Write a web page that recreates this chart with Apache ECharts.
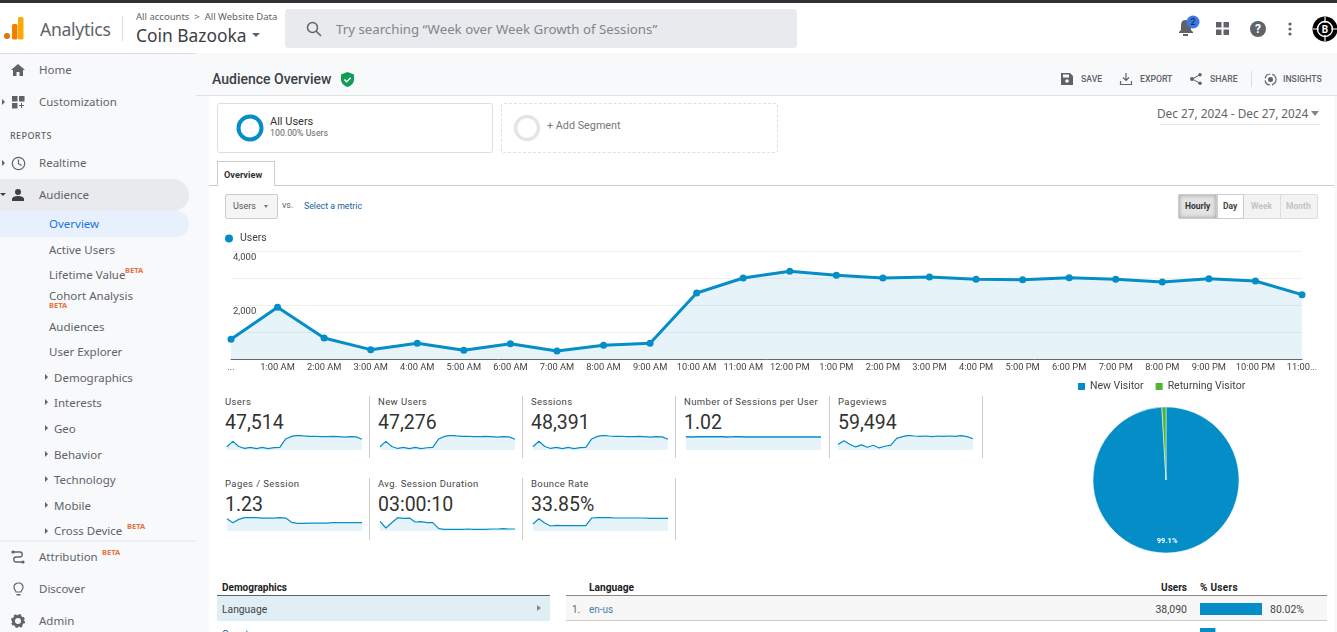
<!DOCTYPE html>
<html>
<head>
<meta charset="utf-8">
<title>Audience Overview</title>
<script src="https://cdn.jsdelivr.net/npm/echarts@6/dist/echarts.min.js"></script>
<style>
html,body{margin:0;padding:0;width:1337px;height:632px;overflow:hidden;background:#fff;font-family:Roboto,sans-serif;color:#3c4043}
.t{position:absolute;white-space:nowrap;transform:translateY(-50%);line-height:1.2}
.box{position:absolute;box-sizing:border-box}
.nav{font:11.5px "Noto Sans",sans-serif;color:#5f6368;transform:translateY(calc(-50% - 1px))}
.beta{font:bold 7.5px "Noto Sans",sans-serif;color:#e8713f}
.tri{position:absolute;width:0;height:0;border-style:solid;border-width:3px 0 3px 3.5px;border-color:transparent transparent transparent #5f6368;transform:translateY(-50%)}
.act{font:500 8.7px Roboto,sans-serif;color:#5f6368}
.ttl{font:9.5px Roboto,sans-serif;color:#444;letter-spacing:.4px}
.val{font:19.5px Roboto,sans-serif;color:#333}
.lnk{color:#1a5f9c}
svg{position:absolute;overflow:visible}
#main{position:absolute;left:0;top:0;width:1337px;height:632px}
</style>
</head>
<body>
<!-- page chrome -->
<div class="box" style="left:0;top:0;width:1337px;height:3px;background:#2f3133"></div>
<div class="box" style="left:0;top:53px;width:209px;height:579px;background:#f8f9fb"></div>
<div class="box" style="left:0;top:53px;width:196px;height:1px;background:#dfe1e5"></div>
<div class="box" style="left:196px;top:53px;width:1141px;height:43px;background:#f8f9fb;border-bottom:1px solid #e0e0e0"></div>
<div class="box" style="left:1334px;top:96px;width:3px;height:536px;background:#f8f9fb"></div>

<!-- logo -->
<svg style="left:0;top:0" width="30" height="50">
  <circle cx="7" cy="36" r="3" fill="#e37400"/>
  <rect x="12" y="24" width="5.5" height="15.5" rx="1.5" fill="#f57c00"/>
  <rect x="18" y="17" width="5.5" height="22.5" rx="1.5" fill="#f9ab00"/>
</svg>
<div class="t" style="left:40px;top:28.5px;font:17.6px 'Noto Sans',sans-serif;color:#5f6368;letter-spacing:-.3px">Analytics</div>
<div class="box" style="left:122px;top:16px;width:1px;height:25px;background:#dadce0"></div>
<div class="t" style="left:136px;top:16px;font:9.5px 'Noto Sans',sans-serif;color:#5f6368">All accounts &nbsp;&gt;&nbsp; All Website Data</div>
<div class="t" style="left:136px;top:34.5px;font:17.4px 'Noto Sans',sans-serif;color:#3c4043">Coin Bazooka</div>
<div class="box" style="left:252px;top:33px;border:4px solid transparent;border-top:4px solid #5f6368;border-bottom:0"></div>

<!-- search -->
<div class="box" style="left:285px;top:9px;width:512px;height:39px;background:#e8eaed;border-radius:4px"></div>
<svg style="left:306px;top:21px" width="16" height="16"><circle cx="6.5" cy="6.5" r="5" fill="none" stroke="#5f6368" stroke-width="1.5"/><line x1="10" y1="10" x2="15" y2="15" stroke="#5f6368" stroke-width="1.6"/></svg>
<div class="t" style="left:336px;top:28.5px;font:13.25px 'Noto Sans',sans-serif;color:#80868b">Try searching “Week over Week Growth of Sessions”</div>

<!-- top right icons -->
<svg style="left:1176px;top:14px" width="30" height="26">
  <path d="M9 6c-3 0-4 3-4 6v4l-2 2v1h14v-1l-2-2v-4c0-3-2-6-6-6z" fill="#5f6368"/><rect x="7" y="20" width="5" height="2" fill="#5f6368"/>
  <circle cx="17" cy="8" r="6.5" fill="#3b78e7"/><text x="17" y="11" text-anchor="middle" font-size="9" font-family="Roboto" fill="#202124">2</text>
</svg>
<svg style="left:1216px;top:22px" width="14" height="14"><g fill="#5f6368"><rect width="5.5" height="5.5"/><rect x="7.5" width="5.5" height="5.5"/><rect y="7.5" width="5.5" height="5.5"/><rect x="7.5" y="7.5" width="5.5" height="5.5"/></g></svg>
<svg style="left:1250px;top:21px" width="16" height="16"><circle cx="8" cy="8" r="8" fill="#5f6368"/><text x="8" y="12" text-anchor="middle" font-size="12" font-weight="bold" font-family="Roboto" fill="#fff">?</text></svg>
<svg style="left:1288px;top:22px" width="4" height="14"><g fill="#5f6368"><circle cx="2" cy="2" r="1.6"/><circle cx="2" cy="7" r="1.6"/><circle cx="2" cy="12" r="1.6"/></g></svg>
<svg style="left:1312px;top:16px" width="26" height="26"><circle cx="13" cy="13" r="12.5" fill="#000"/><circle cx="13" cy="13" r="7.5" fill="none" stroke="#fff" stroke-width="1.4"/><path d="M13 1v6M13 19v6M1 13h6M19 13h6" stroke="#fff" stroke-width="1.2"/><text x="13" y="16.5" text-anchor="middle" font-size="10" font-weight="bold" font-family="Roboto" fill="#fff">B</text></svg>

<!-- left nav -->
<svg style="left:11px;top:64px" width="14" height="12"><path d="M7 0L0 6h2v6h3.5V8h3v4H12V6h2z" fill="#5f6368"/></svg>
<div class="t nav" style="left:39px;top:70px">Home</div>
<div class="tri" style="left:2px;top:102px"></div>
<svg style="left:12px;top:96px" width="13" height="13"><g fill="#5f6368"><rect width="5.5" height="5.5"/><rect x="7" width="5.5" height="5.5"/><rect y="7" width="5.5" height="5.5"/><path d="M9 7h1v2h2v1h-2v2H9v-2H7V9h2z"/></g></svg>
<div class="t nav" style="left:39px;top:102px">Customization</div>
<div class="t" style="left:10px;top:135px;font:500 9px 'Noto Sans',sans-serif;color:#5f6368;letter-spacing:.4px">REPORTS</div>
<div class="tri" style="left:2px;top:163px"></div>
<svg style="left:11px;top:156px" width="15" height="15"><circle cx="7.5" cy="7.5" r="6.2" fill="none" stroke="#5f6368" stroke-width="1.2"/><path d="M7.5 3.5v4.2l3 1.8" fill="none" stroke="#5f6368" stroke-width="1.2"/></svg>
<div class="t nav" style="left:39px;top:163px">Realtime</div>
<div class="box" style="left:0;top:179px;width:189px;height:32px;background:#e8eaed;border-radius:0 16px 16px 0"></div>
<div class="box" style="left:0;top:193px;border:3px solid transparent;border-top:3.5px solid #3c4043;border-bottom:0"></div>
<svg style="left:12px;top:189px" width="12" height="12"><circle cx="6" cy="3" r="3" fill="#3c4043"/><path d="M0 12v-2c0-2 3-3 6-3s6 1 6 3v2z" fill="#3c4043"/></svg>
<div class="t nav" style="left:39px;top:195px">Audience</div>
<div class="box" style="left:0;top:211px;width:189px;height:26px;background:#e8f0fe;border-radius:0 13px 13px 0"></div>
<div class="t nav" style="left:49px;top:224px;color:#1a73e8">Overview</div>
<div class="t nav" style="left:49px;top:250px">Active Users</div>
<div class="t nav" style="left:49px;top:275px">Lifetime Value</div>
<div class="t beta" style="left:125px;top:270px">BETA</div>
<div class="t nav" style="left:49px;top:296px">Cohort Analysis</div>
<div class="t beta" style="left:49px;top:305px">BETA</div>
<div class="t nav" style="left:49px;top:327px">Audiences</div>
<div class="t nav" style="left:49px;top:352px">User Explorer</div>
<div class="tri" style="left:45px;top:377px"></div><div class="t nav" style="left:54px;top:378px">Demographics</div>
<div class="tri" style="left:45px;top:402px"></div><div class="t nav" style="left:54px;top:403px">Interests</div>
<div class="tri" style="left:45px;top:428px"></div><div class="t nav" style="left:54px;top:429px">Geo</div>
<div class="tri" style="left:45px;top:454px"></div><div class="t nav" style="left:54px;top:455px">Behavior</div>
<div class="tri" style="left:45px;top:479px"></div><div class="t nav" style="left:54px;top:480px">Technology</div>
<div class="tri" style="left:45px;top:505px"></div><div class="t nav" style="left:54px;top:506px">Mobile</div>
<div class="tri" style="left:45px;top:531px"></div><div class="t nav" style="left:54px;top:531px">Cross Device</div>
<div class="t beta" style="left:127px;top:526px">BETA</div>
<div class="box" style="left:0;top:540px;width:196px;height:2px;background:#eceef1"></div>
<svg style="left:11px;top:550px" width="14" height="14"><path d="M2 2h7c3 0 3 5 0 5H5c-3 0-3 5 0 5h7" fill="none" stroke="#5f6368" stroke-width="1.3"/><circle cx="2" cy="2" r="1.6" fill="#5f6368"/><circle cx="12" cy="12" r="1.6" fill="#5f6368"/></svg>
<div class="t nav" style="left:39px;top:557px">Attribution</div>
<div class="t beta" style="left:102px;top:552px">BETA</div>
<svg style="left:13px;top:582px" width="11" height="15"><path d="M5.5 1C2.5 1 1 3 1 5.2c0 2 1.5 3 2 4.8h5c.5-1.800 2-2.800 2-4.800C10 3 8.500 1 5.500 1z" fill="none" stroke="#5f6368" stroke-width="1.2"/><rect x="3.500" y="12" width="4" height="1.500" fill="#5f6368"/></svg>
<div class="t nav" style="left:39px;top:589px">Discover</div>
<svg style="left:11px;top:614px" width="14" height="14"><circle cx="7" cy="7" r="4.500" fill="none" stroke="#5f6368" stroke-width="3"/><circle cx="7" cy="7" r="6" fill="none" stroke="#5f6368" stroke-width="2" stroke-dasharray="2.500 2.200"/></svg>
<div class="t nav" style="left:39px;top:621px">Admin</div>

<!-- report header -->
<div class="t" style="left:212px;top:79px;font:500 14px Roboto,sans-serif;color:#3c4043">Audience Overview</div>
<svg style="left:341px;top:72px" width="13" height="15"><path d="M6.500 0L0 2.500v5C0 11 3 14 6.500 15 10 14 13 11 13 7.500v-5z" fill="#0f9d58"/><path d="M3.500 7.500l2.200 2.200 4-4" fill="none" stroke="#fff" stroke-width="1.500"/></svg>
<svg style="left:1061px;top:73px" width="12" height="12"><path d="M0 0h9l3 3v9H0z" fill="#5f6368"/><rect x="2" y="1.500" width="6" height="3" fill="#f8f9fb"/><circle cx="6" cy="8" r="1.800" fill="#f8f9fb"/></svg>
<div class="t act" style="left:1081px;top:79px">SAVE</div>
<svg style="left:1120px;top:73px" width="12" height="12"><path d="M6 0v7M3 4.500l3 3 3-3M.5 8v3.500h11V8" fill="none" stroke="#5f6368" stroke-width="1.200"/></svg>
<div class="t act" style="left:1140px;top:79px">EXPORT</div>
<svg style="left:1190px;top:73px" width="12" height="12"><circle cx="2" cy="6" r="2" fill="#5f6368"/><circle cx="10" cy="1.800" r="1.800" fill="#5f6368"/><circle cx="10" cy="10.200" r="1.800" fill="#5f6368"/><path d="M2 6l8-4.200M2 6l8 4.200" stroke="#5f6368"/></svg>
<div class="t act" style="left:1210px;top:79px">SHARE</div>
<div class="box" style="left:1251px;top:71px;width:1px;height:16px;background:#dadce0"></div>
<svg style="left:1264px;top:73px" width="13" height="13"><circle cx="6.500" cy="6.500" r="5.500" fill="none" stroke="#5f6368" stroke-width="1.200" stroke-dasharray="7 2"/><circle cx="6.500" cy="6.500" r="2.500" fill="#5f6368"/></svg>
<div class="t act" style="left:1283px;top:79px">INSIGHTS</div>

<!-- segments -->
<div class="box" style="left:217px;top:103px;width:276px;height:50px;border:1px solid #e0e0e0;border-radius:3px"></div>
<svg style="left:236px;top:114px" width="28" height="28"><circle cx="14" cy="14" r="11.500" fill="none" stroke="#058dc7" stroke-width="4"/></svg>
<div class="t" style="left:270px;top:121px;font:11px Roboto,sans-serif;color:#333">All Users</div>
<div class="t" style="left:270px;top:133px;font:8.800px Roboto,sans-serif;color:#666">100.00% Users</div>
<div class="box" style="left:501px;top:103px;width:277px;height:50px;border:1px dashed #e0e0e0;border-radius:3px"></div>
<svg style="left:513px;top:114px" width="28" height="28"><circle cx="14" cy="14" r="11.500" fill="none" stroke="#e5e5e5" stroke-width="3.500"/></svg>
<div class="t" style="left:547px;top:125px;font:10.800px Roboto,sans-serif;color:#777">+ Add Segment</div>
<div class="t" style="left:1157px;top:113px;font:11.800px 'Noto Sans',sans-serif;color:#5f6368">Dec 27, 2024 - Dec 27, 2024</div>
<div class="box" style="left:1311px;top:111px;border:4px solid transparent;border-top:5px solid #80868b;border-bottom:0"></div>
<div class="box" style="left:1160px;top:124px;width:160px;height:1px;background:#e8e8e8"></div>

<!-- tab -->
<div class="box" style="left:209px;top:185px;width:1125px;height:1px;background:#ccc"></div>
<div class="box" style="left:217px;top:161px;width:58px;height:25px;background:#fff;border:1px solid #ccc;border-bottom:0"></div>
<div class="t" style="left:224px;top:173.5px;font:bold 9.200px Roboto,sans-serif;color:#333">Overview</div>

<!-- metric picker -->
<div class="box" style="left:225px;top:194px;width:53px;height:25px;border:1px solid #ccc;border-radius:2px;background:#f5f5f5"></div>
<div class="t" style="left:233px;top:206px;font:9px Roboto,sans-serif;color:#555">Users</div>
<div class="box" style="left:264px;top:205px;border:2.500px solid transparent;border-top:3px solid #777;border-bottom:0"></div>
<div class="t" style="left:282px;top:205px;font:9px Roboto,sans-serif;color:#666">vs.</div>
<div class="t lnk" style="left:304px;top:206px;font:8.750px Roboto,sans-serif">Select a metric</div>
<div class="box" style="left:1178px;top:194px;width:140px;height:25px;background:#f3f3f3;border:1px solid #ddd;border-radius:2px"></div>
<div class="box" style="left:1178px;top:194px;width:39px;height:25px;background:#e3e3e3;border:1px solid #ccc;box-shadow:inset 0 0 4px #999;border-radius:2px 0 0 2px"></div>
<div class="box" style="left:1217px;top:194px;width:27px;height:25px;background:#fff;border:1px solid #ccc"></div>
<div class="box" style="left:1280px;top:195px;width:1px;height:23px;background:#ddd"></div>
<div class="t" style="left:1185px;top:206px;font:bold 8.500px Roboto,sans-serif;color:#333">Hourly</div>
<div class="t" style="left:1223px;top:206px;font:bold 8.500px Roboto,sans-serif;color:#444">Day</div>
<div class="t" style="left:1251px;top:206px;font:bold 8.500px Roboto,sans-serif;color:#c4c4c4">Week</div>
<div class="t" style="left:1286px;top:206px;font:bold 8.500px Roboto,sans-serif;color:#c4c4c4">Month</div>

<!-- scorecards -->
<div class="t ttl" style="left:225px;top:401px">Users</div><div class="t val" style="left:225px;top:422px">47,514</div>
<div class="t ttl" style="left:378px;top:401px">New Users</div><div class="t val" style="left:378px;top:422px">47,276</div>
<div class="t ttl" style="left:531px;top:401px">Sessions</div><div class="t val" style="left:531px;top:422px">48,391</div>
<div class="t ttl" style="left:684px;top:401px">Number of Sessions per User</div><div class="t val" style="left:684px;top:422px">1.02</div>
<div class="t ttl" style="left:838px;top:401px">Pageviews</div><div class="t val" style="left:838px;top:422px">59,494</div>
<div class="t ttl" style="left:225px;top:483px">Pages / Session</div><div class="t val" style="left:225px;top:504px">1.23</div>
<div class="t ttl" style="left:378px;top:483px">Avg. Session Duration</div><div class="t val" style="left:378px;top:504px">03:00:10</div>
<div class="t ttl" style="left:531px;top:483px">Bounce Rate</div><div class="t val" style="left:531px;top:504px">33.85%</div>
<div class="box" style="left:369px;top:396px;width:1px;height:62px;background:#ccc"></div>
<div class="box" style="left:522px;top:396px;width:1px;height:62px;background:#ccc"></div>
<div class="box" style="left:675px;top:396px;width:1px;height:62px;background:#ccc"></div>
<div class="box" style="left:829px;top:396px;width:1px;height:62px;background:#ccc"></div>
<div class="box" style="left:982px;top:396px;width:1px;height:62px;background:#ccc"></div>
<div class="box" style="left:369px;top:478px;width:1px;height:62px;background:#ccc"></div>
<div class="box" style="left:522px;top:478px;width:1px;height:62px;background:#ccc"></div>
<div class="box" style="left:675px;top:478px;width:1px;height:62px;background:#ccc"></div>

<!-- language table -->
<div class="t" style="left:222px;top:586.5px;font:bold 10px Roboto,sans-serif;color:#222">Demographics</div>
<div class="box" style="left:217px;top:595px;width:333px;height:1px;background:#5a6470"></div>
<div class="box" style="left:217px;top:596px;width:333px;height:25px;background:#e0eef5"></div>
<div class="t" style="left:222px;top:608.5px;font:10.300px Roboto,sans-serif;color:#444">Language</div>
<div class="tri" style="left:537px;top:608px;border-width:3.500px 0 3.500px 4px;border-left-color:#888"></div>
<div class="t lnk" style="left:222px;top:634px;font:10px Roboto,sans-serif">Country</div>
<div class="t" style="left:589px;top:586.5px;font:bold 10.200px Roboto,sans-serif;color:#222">Language</div>
<div class="box" style="left:566px;top:595px;width:761px;height:1px;background:#888"></div>
<div class="box" style="left:566px;top:596px;width:761px;height:25px;background:#f7f7f7;border-bottom:1px solid #ccc"></div>
<div class="t" style="left:572px;top:608.5px;font:10px Roboto,sans-serif;color:#666">1.</div>
<div class="t lnk" style="left:589px;top:608.5px;font:10px Roboto,sans-serif;color:#4a80a8">en-us</div>
<div class="t" style="left:572px;top:636px;font:10px Roboto,sans-serif;color:#666">2.</div>
<div class="t" style="right:150px;top:586.5px;font:bold 10px Roboto,sans-serif;color:#222">Users</div>
<div class="t" style="left:1200px;top:586.5px;font:bold 10px Roboto,sans-serif;color:#222;letter-spacing:.3px">% Users</div>
<div class="t" style="right:150px;top:608.5px;font:10.500px Roboto,sans-serif;color:#444">38,090</div>
<div class="t" style="left:1270px;top:608.5px;font:10.500px Roboto,sans-serif;color:#444">80.02%</div>
<div class="t" style="right:150px;top:636px;font:10.500px Roboto,sans-serif;color:#444">9,460</div>
<div class="t" style="left:1223px;top:636px;font:10.500px Roboto,sans-serif;color:#444">19.91%</div>

<div id="main"></div>

<script>
var hours = ['...','1:00 AM','2:00 AM','3:00 AM','4:00 AM','5:00 AM','6:00 AM','7:00 AM','8:00 AM','9:00 AM','10:00 AM','11:00 AM','12:00 PM','1:00 PM','2:00 PM','3:00 PM','4:00 PM','5:00 PM','6:00 PM','7:00 PM','8:00 PM','9:00 PM','10:00 PM','11:00...'];
var users = [728,1914,778,346,580,321,568,296,506,580,2444,3000,3247,3099,3000,3037,2951,2938,3012,2951,2852,2975,2889,2383];
var newUsers = [720,1900,770,340,575,318,565,290,500,575,2430,2985,3232,3085,2985,3020,2938,2925,2998,2935,2838,2960,2875,2370];
var sessions = [740,1960,795,350,590,325,580,300,515,590,2490,3060,3310,3155,3060,3095,3005,2990,3070,3005,2905,3030,2945,2425];
var sessionsPerUser = [1.03,1.02,1.03,1.03,1.04,1.03,1.04,1.02,1.03,1.05,1.02,1.01,1.01,1.01,1.01,1.01,1.01,1.01,1.01,1.01,1.01,1.01,1.01,1.01];
var pageviews = [1379,2327,1465,776,1293,690,1207,517,948,1207,2931,3362,3707,3534,3448,3534,3362,3534,3448,3534,3448,3620,3362,2845];
var pagesPerSession = [1.75,1.18,1.65,1.89,1.89,1.89,1.84,1.84,1.84,1.89,1.84,1.23,1.09,1.09,1.13,1.13,1.13,1.13,1.18,1.18,1.18,1.18,1.18,1.18];
var avgDuration = [33640,10440,29000,46400,44080,45240,31320,32480,29000,29000,8120,5800,5800,5800,5800,6960,5800,5800,5800,6960,6960,8120,6960,6960];
var bounceRate = [19.7,34.8,22.6,14.1,16,15,15,15,15,15,36.7,37.6,37.6,37.6,36.7,36.7,36.7,36.7,36.7,36.7,35.7,35.7,35.7,35.7];
var visitorTypes = ['New Visitor','Returning Visitor'];
var visitorShare = [99.1,0.9];
var languages = ['en-us','other'];
var languageShare = [80.02,19.91];

var BLUE = '#058dc7';
var LABEL = 'Roboto, Liberation Sans, sans-serif';

var chart = echarts.init(document.getElementById('main'));

// main hourly chart is grid 0, sparklines follow, language bars last
var grids = [{left:231, top:251, width:1071, height:108}];
var xAxes = [{
    type:'category', gridIndex:0, boundaryGap:false, data:hours,
    axisTick:{show:false},
    axisLine:{lineStyle:{color:'#666', width:1}},
    axisLabel:{interval:0, color:'#444', fontSize:9.3, fontFamily:LABEL, margin:4}
}];
var yAxes = [{
    type:'value', gridIndex:0, min:0, max:4000, interval:1000,
    axisLine:{show:false}, axisTick:{show:false},
    splitLine:{lineStyle:{color:'#f0f0f0'}},
    axisLabel:{
        inside:true, color:'#444', fontSize:9.5, fontFamily:LABEL, margin:2, verticalAlign:'top', padding:[2,0,0,0],
        formatter:function (v) { return v === 4000 ? '4,000' : v === 2000 ? '2,000' : ''; }
    }
}];
var series = [{
    name:'Users', type:'line', xAxisIndex:0, yAxisIndex:0, data:users,
    symbol:'circle', symbolSize:7, showSymbol:true, animation:false,
    lineStyle:{color:BLUE, width:3}, itemStyle:{color:BLUE},
    areaStyle:{color:BLUE, opacity:0.1}
}];

function addSpark(name, data, left, baseline, h, lineW) {
    var i = grids.length;
    grids.push({left:left, top:baseline - h, width:135, height:h});
    xAxes.push({type:'category', gridIndex:i, boundaryGap:false, show:false, data:hours});
    yAxes.push({type:'value', gridIndex:i, min:0, max:'dataMax', show:false});
    series.push({
        name:name, type:'line', xAxisIndex:i, yAxisIndex:i, data:data, symbol:'none', animation:false,
        lineStyle:{color:BLUE, width:lineW || 1.2}, areaStyle:{color:BLUE, opacity:0.1}
    });
}
addSpark('Users spark', users, 227, 450, 14.7);
addSpark('New Users spark', newUsers, 380, 450, 14.7);
addSpark('Sessions spark', sessions, 533, 450, 14.7);
addSpark('Sessions per User spark', sessionsPerUser, 686, 450, 13.5, 1.5);
addSpark('Pageviews spark', pageviews, 838, 450, 14.7);
addSpark('Pages / Session spark', pagesPerSession, 227, 531, 13.3);
addSpark('Avg. Session Duration spark', avgDuration, 380, 531, 13.3);
addSpark('Bounce Rate spark', bounceRate, 533, 531, 13.3);

// % Users bars in the table, second row runs off the bottom of the page
var b = grids.length;
grids.push({left:1200, top:596.5, width:77.5, height:50, outerBoundsMode:'none'});
xAxes.push({type:'value', gridIndex:b, min:0, max:100, show:false});
yAxes.push({type:'category', gridIndex:b, inverse:true, show:false, data:languages});
series.push({
    name:'% Users', type:'bar', xAxisIndex:b, yAxisIndex:b, data:languageShare,
    barWidth:12, itemStyle:{color:BLUE}, animation:false
});

series.push({
    name:'Visitor type', type:'pie', center:[1166,480], radius:73, startAngle:90, animation:false,
    data:visitorTypes.map(function (n, i) { return {name:n, value:visitorShare[i]}; }),
    color:[BLUE,'#50b432'],
    itemStyle:{borderColor:'#fff', borderWidth:0.5},
    emphasis:{disabled:true},
    label:{
        position:'inside', color:'#fff', fontSize:7.5, fontWeight:'bold', fontFamily:LABEL,
        formatter:function (p) { return p.dataIndex === 0 ? '99.1%' : ''; }
    },
    labelLine:{show:false},
    labelLayout:{dy:22}
});

chart.setOption({
    animation:false,
    color:[BLUE,'#50b432'],
    grid:grids, xAxis:xAxes, yAxis:yAxes, series:series,
    legend:[
        {data:['Users'], left:225, top:233, icon:'circle', itemWidth:8, itemHeight:8, itemGap:6,
         textStyle:{color:'#444', fontSize:10.5, fontFamily:LABEL, padding:[0,0,0,2]}, padding:0},
        {data:visitorTypes, left:1076, top:381, icon:'rect', itemWidth:9, itemHeight:9, itemGap:10,
         textStyle:{color:'#444', fontSize:10.5, fontFamily:LABEL, padding:[0,0,0,-1]}, padding:0}
    ]
});
</script>
</body>
</html>
